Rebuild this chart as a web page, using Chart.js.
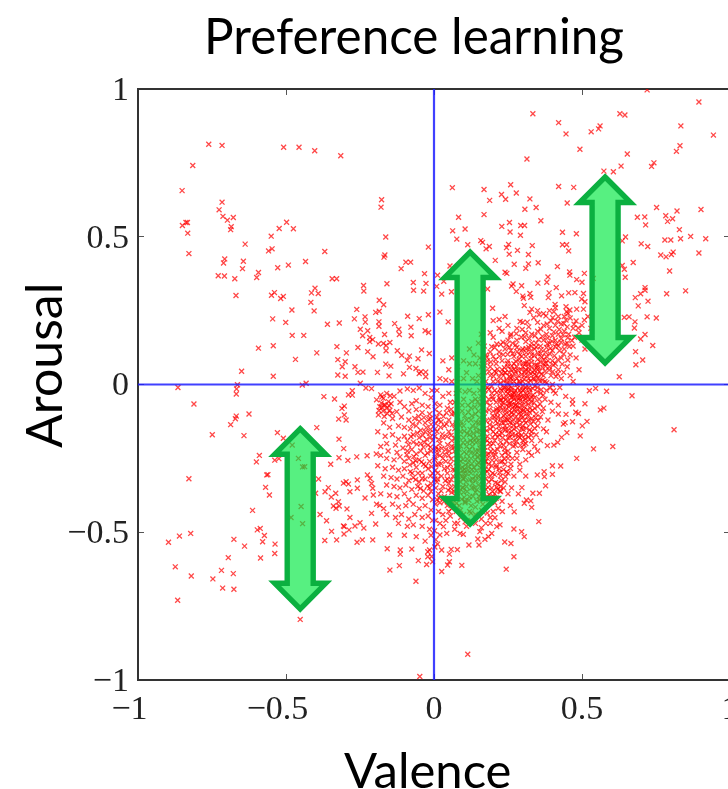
<!DOCTYPE html>
<html><head><meta charset="utf-8">
<style>html,body{margin:0;padding:0;background:#fff;overflow:hidden;width:728px;height:789px}canvas{display:block}</style>
<script src="https://cdn.jsdelivr.net/npm/chart.js@4/dist/chart.umd.min.js"></script>
</head><body>
<canvas id="c" width="828" height="809" style="width:828px;height:809px"></canvas>
<script>
// Each list alternates valence, arousal
const upperLeft=[-.761,.813,-.716,.809,-.508,.803,-.456,.803,-.403,.791,-.315,.774,-.815,.741,-.851,.656,-.716,.617,-.177,.625,-.179,.6,-.726,.591,-.713,.569,-.698,.556,-.678,.565,-.838,.548,-.833,.548,-.85,.538,-.498,.549,-.685,.534,-.687,.524,-.523,.528,-.475,.527,-.832,.512,-.55,.502,-.163,.499,-.019,.465,-.638,.475,-.547,.459,-.559,.452,-.828,.443,-.369,.45,-.166,.438,-.169,.431,-.707,.425,-.644,.417,-.711,.411,-.434,.416,-.492,.404,-.528,.395,-.647,.392,-.095,.414,-.079,.414,-.111,.392,-.593,.379,-.032,.375,-.729,.368,-.708,.367,-.599,.362,-.673,.358,-.344,.358,-.329,.358,-.159,.341,-.07,.345,-.027,.342,-.238,.335,-.237,.316,-.402,.326,-.069,.319,-.035,.316,-.414,.31,-.391,.308,-.539,.311,-.549,.302,-.669,.301,-.509,.298,-.518,.291,-.185,.285,-.416,.278,-.17,.27,-.48,.252,-.405,.249,-.261,.254,-.185,.248,-.197,.244,-.233,.229,-.089,.231,-.05,.223,-.019,.236,-.545,.222,-.269,.222,-.232,.211,-.501,.21,-.36,.204,-.32,.208,-.186,.212,-.186,.197,-.133,.206,-.078,.194,-.249,.187,-.224,.182,-.119,.187,-.03,.182,-.018,.176,-.241,.165,-.167,.169,-.117,.169,-.077,.165,-.479,.166,-.44,.166,-.217,.159,-.207,.152,-.217,.145,-.188,.137,-.171,.139,-.149,.142,-.162,.132,-.162,.114,-.593,.123,-.543,.131,-.328,.128,-.257,.125,-.296,.107,-.396,.107,-.224,.111,-.124,.114,-.042,.117,-.016,.105,-.206,.094,-.109,.099,-.083,.096,-.054,.087,-.468,.085,-.325,.084,-.3,.077,-.09,.082,-.31,.06,-.267,.06,-.163,.069,-.146,.062,-.083,.058,-.061,.054,-.044,.043,-.028,.042,-.65,.045,-.257,.041,-.24,.042,-.191,.041,-.103,.036,-.543,.028,-.325,.032,-.3,.028,-.152,.029,-.05,.037,-.028,.026];
const upperRight=[.72,.997,.895,.956,.334,.916,.628,.916,.645,.912,.421,.886,.834,.875,.446,.848,.561,.875,.556,.865,.531,.855,.944,.844,.831,.808,.819,.789,.493,.796,.653,.78,.314,.763,.743,.75,.735,.738,.632,.739,.606,.72,.574,.722,.062,.666,.169,.66,.259,.676,.421,.67,.472,.667,.228,.643,.278,.648,.242,.627,.188,.623,.324,.628,.45,.614,.307,.593,.345,.599,.752,.599,.902,.592,.821,.587,.169,.575,.083,.566,.687,.566,.712,.567,.783,.571,.806,.561,.789,.552,.361,.554,.715,.54,.255,.548,.229,.535,.293,.538,.306,.538,.105,.526,.063,.52,.257,.516,.434,.515,.829,.524,.481,.51,.292,.505,.867,.501,.833,.493,.918,.493,.077,.492,.78,.489,.8,.489,.647,.499,.636,.486,.158,.487,.164,.481,.114,.473,.187,.467,.176,.459,.252,.474,.245,.463,.332,.47,.434,.473,.448,.473,.7,.476,.722,.467,.282,.454,.455,.452,.254,.441,.319,.44,.895,.445,.766,.438,.784,.432,.802,.44,.808,.448,.207,.42,.271,.407,.319,.408,.31,.393,.352,.412,.673,.413,.054,.401,.417,.399,.636,.403,.643,.39,.796,.384,.24,.38,.246,.376,.458,.381,.459,.37,.385,.364,.508,.376,.012,.37,.033,.349,.646,.363,.482,.355,.381,.346,.351,.343,.5,.346,.538,.359,.267,.34,.262,.333,.296,.334,.009,.332,.181,.323,.413,.328,.713,.328,.713,.319,.85,.317,.786,.307,.059,.314,.026,.306,.278,.315,.324,.308,.389,.31,.386,.294,.3,.299,.302,.292,.327,.295,.431,.3,.455,.31,.476,.311,.505,.308,.499,.289,.51,.28,.698,.307,.68,.294,.723,.282,.69,.266,.305,.267,.409,.271,.198,.258,.33,.255,.324,.244,.02,.245,.446,.263,.448,.246,.459,.252,.453,.24,.482,.255,.505,.255,.72,.229,.751,.225,.659,.229,.643,.227,.22,.22,.2,.216,.291,.213,.048,.212,.508,.218,.679,.212,.677,.191,.713,.169,.698,.154,.739,.132,.681,.111,.705,.083,.682,.067,.626,.026];
const lowerLeft=[-.865,-.01,-.664,-.001,-.667,-.015,-.668,-.032,-.811,-.066,-.445,-.002,-.432,.004,-.249,.004,-.23,-.012,-.211,-.014,-.625,-.1,-.668,-.107,-.671,-.116,-.687,-.136,-.372,-.041,-.336,-.049,-.289,-.035,-.276,-.021,-.276,-.036,-.303,-.073,-.311,-.081,-.303,-.103,-.297,-.12,-.322,-.117,-.396,-.146,-.749,-.17,-.642,-.173,-.529,-.163,-.509,-.182,-.479,-.205,-.321,-.185,-.305,-.217,-.59,-.24,-.6,-.262,-.538,-.256,-.524,-.251,-.458,-.25,-.444,-.279,-.437,-.278,-.321,-.248,-.291,-.257,-.261,-.245,-.349,-.27,-.226,-.241,-.828,-.319,-.565,-.306,-.561,-.305,-.39,-.32,-.569,-.348,-.556,-.374,-.4,-.368,-.357,-.349,-.368,-.363,-.332,-.368,-.347,-.381,-.297,-.329,-.289,-.337,-.306,-.334,-.284,-.363,-.259,-.323,-.259,-.351,-.233,-.384,-.225,-.306,-.216,-.318,-.211,-.335,-.207,-.351,-.205,-.374,-.449,-.413,-.613,-.426,-.323,-.397,-.34,-.411,-.32,-.411,-.331,-.419,-.294,-.421,-.194,-.405,-.183,-.409,-.385,-.44,-.483,-.45,-.363,-.461,-.284,-.45,-.211,-.436,-.444,-.471,-.25,-.468,-.267,-.479,-.306,-.479,-.303,-.481,-.197,-.472,-.237,-.486,-.597,-.492,-.587,-.487,-.346,-.497,-.287,-.492,-.304,-.506,-.822,-.504,-.86,-.513,-.573,-.511,-.676,-.524,-.579,-.532,-.897,-.534,-.64,-.547,-.537,-.54,-.369,-.528,-.329,-.526,-.26,-.534,-.242,-.526,-.207,-.526,-.15,-.509,-.158,-.556,-.114,-.56,-.114,-.574,-.075,-.557,-.538,-.572,-.586,-.587,-.695,-.586,-.021,-.566,-.021,-.583,-.053,-.596,-.025,-.609,-.117,-.613,-.149,-.628,-.874,-.617,-.718,-.629,-.678,-.64,-.82,-.648,-.747,-.658,-.061,-.666,-.714,-.689,-.676,-.693,-.866,-.73,-.452,-.795,-.048,-.988];
const lowerRight=[.669,-.038,.811,-.153,.583,-.023,.546,-.013,.525,-.021,.51,-.065,.468,-.052,.468,-.066,.562,-.086,.574,-.08,.488,-.098,.479,-.094,.446,-.101,.517,-.125,.501,-.14,.468,-.126,.437,-.134,.443,-.129,.431,-.179,.449,-.163,.494,-.174,.418,-.196,.405,-.205,.383,-.207,.539,-.218,.604,-.21,.482,-.25,.4,-.275,.428,-.276,.372,-.295,.4,-.304,.373,-.312,.349,-.306,.377,-.343,.356,-.368,.334,-.368,.297,-.349,.312,-.391,.305,-.402,.327,-.394,.33,-.416,.271,-.431,.354,-.464,.27,-.489,.296,-.498,.305,-.515,.26,-.538,.239,-.533,.27,-.583,.244,-.625,.114,-.913,.026,-.56,.058,-.558,.079,-.559,.052,-.574,.052,-.6,.046,-.611,.094,-.612,.026,-.633,.118,-.543,.152,-.543,.212,-.481,.223,-.475,.206,-.451,.217,-.419,.155,-.498,.184,-.515,.172,-.524,.195,-.504,.099,-.507,.088,-.504,.032,-.481,.043,-.504,.02,-.509,.003,-.55,-.008,-.582,-.005,-.6,.006,-.525,.012,-.54,.148,-.523,.16,-.485,.19,-.47,.2,-.43,.231,-.43,.258,-.41,.285,-.37,.25,-.37,.23,-.395,.262,-.35,.24,-.33,.27,-.31,.29,-.29,.31,-.31,.25,-.3,.222,-.36,.2,-.38,.175,-.47,.14,-.47,.11,-.48,.07,-.49,.07,-.47,.04,-.46,.02,-.47,.015,-.43,.05,-.43,.09,-.45];
const leftMass=[-.194,-.052,-.171,-.047,-.154,-.058,-.183,-.075,-.16,-.081,-.149,-.087,-.188,-.103,-.126,-.092,-.178,-.063,-.165,-.07,-.145,-.065,-.172,-.09,-.18,-.035,-.16,-.03,-.135,-.04,-.115,-.022,-.09,-.015,-.07,-.02,-.05,-.012,-.03,-.03,-.01,-.045,-.115,-.06,-.1,-.075,-.075,-.065,-.06,-.055,-.04,-.07,-.02,-.075,-.085,-.09,-.06,-.085,-.04,-.095,-.015,-.1,-.14,-.115,-.11,-.11,-.085,-.12,-.065,-.115,-.05,-.125,-.03,-.13,-.01,-.135,-.17,-.13,-.15,-.145,-.12,-.14,-.1,-.145,-.08,-.15,-.06,-.14,-.045,-.155,-.03,-.16,-.015,-.165,.004,-.15,-.19,-.16,-.165,-.175,-.14,-.17,-.12,-.185,-.1,-.175,-.09,-.19,-.07,-.17,-.07,-.195,-.05,-.18,-.045,-.2,-.025,-.185,-.02,-.205,-.005,-.19,-.18,-.21,-.16,-.2,-.155,-.225,-.13,-.205,-.125,-.23,-.105,-.215,-.09,-.225,-.075,-.22,-.06,-.235,-.045,-.225,-.03,-.24,-.01,-.225,.005,-.22,-.195,-.235,-.18,-.24,-.16,-.25,-.135,-.255,-.115,-.245,-.1,-.26,-.085,-.25,-.07,-.265,-.05,-.255,-.035,-.27,-.015,-.26,.002,-.255,-.19,-.275,-.165,-.285,-.14,-.28,-.12,-.29,-.1,-.285,-.08,-.295,-.06,-.28,-.04,-.3,-.02,-.285,-.005,-.3,-.17,-.31,-.145,-.315,-.125,-.32,-.105,-.31,-.085,-.325,-.07,-.315,-.05,-.33,-.03,-.32,-.01,-.335,.003,-.32,-.16,-.34,-.135,-.345,-.115,-.35,-.095,-.34,-.075,-.355,-.055,-.345,-.035,-.36,-.015,-.35,-.18,-.37,-.15,-.375,-.125,-.38,-.1,-.37,-.085,-.39,-.06,-.375,-.04,-.385,-.02,-.375,-.005,-.39,-.17,-.42,-.14,-.405,-.12,-.415,-.095,-.41,-.07,-.405,-.05,-.42,-.03,-.41,-.01,-.425,.005,-.405,-.16,-.44,-.13,-.45,-.11,-.44,-.085,-.455,-.065,-.44,-.04,-.45,-.02,-.445,-.005,-.46,-.12,-.47,-.09,-.48,-.07,-.475,-.04,-.48,-.015,-.49,-.1,-.51,-.06,-.515,-.03,-.53,-.01,-.51,.002,-.495,-.015,-.56,.005,-.46,-.007,-.02,.004,-.065,.01,-.11,-.012,-.115];
const centreMass=[.01,-.02,.03,-.04,.02,-.07,.05,-.03,.045,-.08,.07,-.06,.085,-.02,.1,-.05,.06,-.1,.015,-.12,.035,-.14,.05,-.12,.08,-.11,.095,-.09,.11,-.12,.125,-.08,.14,-.05,.155,-.02,.15,-.09,.165,-.06,.13,-.14,.15,-.13,.17,-.11,.01,-.16,.03,-.18,.05,-.16,.07,-.15,.09,-.16,.1,-.14,.12,-.17,.145,-.16,.17,-.15,.19,-.12,.2,-.09,.185,-.05,.02,-.2,.04,-.22,.06,-.19,.08,-.2,.1,-.18,.11,-.21,.13,-.195,.15,-.19,.165,-.2,.18,-.175,.2,-.16,.215,-.13,.01,-.235,.03,-.25,.05,-.24,.07,-.225,.09,-.24,.11,-.235,.125,-.25,.14,-.225,.155,-.24,.17,-.225,.19,-.21,.205,-.19,.22,-.17,.235,-.15,.015,-.27,.035,-.285,.055,-.27,.075,-.265,.095,-.28,.115,-.265,.135,-.28,.15,-.265,.165,-.275,.18,-.25,.2,-.24,.215,-.22,.235,-.205,.25,-.18,.005,-.29,.025,-.31,.045,-.3,.065,-.31,.085,-.3,.105,-.315,.125,-.3,.14,-.31,.16,-.3,.18,-.295,.195,-.275,.21,-.255,.23,-.24,.25,-.225,.01,-.33,.03,-.345,.05,-.335,.07,-.345,.09,-.33,.11,-.345,.13,-.335,.15,-.34,.165,-.325,.185,-.33,.205,-.305,.22,-.285,.24,-.27,.265,-.25,.015,-.37,.035,-.38,.06,-.365,.08,-.38,.1,-.365,.12,-.38,.14,-.365,.16,-.37,.175,-.355,.195,-.35,.215,-.335,.02,-.4,.045,-.41,.065,-.4,.085,-.41,.105,-.395,.125,-.41,.145,-.395,.165,-.405,.185,-.39,.03,-.44,.055,-.445,.075,-.43,.1,-.44,.12,-.43,.14,-.44,.16,-.425,.18,-.435,.16,-.455,.19,-.45,.125,-.46,.08,-.47,.105,-.465,.012,-.3,.015,-.22,.022,-.145,.018,-.385,.1,-.3,.12,-.22,.085,-.22,.14,-.255,.07,-.29,.09,-.26,.06,-.21,.04,-.26,.105,-.4,.135,-.35,.115,-.29,.15,-.31,.13,-.32,.095,-.35,.075,-.38,.055,-.35,.045,-.32,.155,-.215,.175,-.26,.125,-.12,.14,-.1,.16,-.13,.175,-.09,.19,-.07,.075,-.13,.055,-.06,.115,-.07,.135,-.03,.17,-.035,.195,-.03,.12,-.02,.095,-.07,.105,-.025,.075,-.03,.155,-.07,.145,-.18,.16,-.17,.18,-.19,.19,-.15,.205,-.11,.215,-.08,.225,-.05,.13,-.21,.15,-.225,.185,-.235,.2,-.2,.22,-.155,.24,-.12,.165,-.25,.185,-.27,.205,-.225,.17,-.3,.19,-.31,.21,-.28,.23,-.26,.24,-.23,.255,-.2,.265,-.17,.275,-.205,.285,-.175,.295,-.15,.28,-.23,.3,-.19,.26,-.27,.245,-.295,.225,-.31,.215,-.355,.235,-.35,.18,-.38,.205,-.37,.225,-.345,.155,-.39,.14,-.415,.165,-.43,.205,-.4,.125,-.435,.09,-.425,.06,-.42];
const denseBlob=[.27,-.05,.25,-.03,.29,-.02,.31,-.06,.265,-.08,.285,-.1,.245,-.07,.225,-.03,.24,-.01,.26,.01,.28,.02,.3,.01,.32,-.01,.335,-.035,.325,-.08,.3,-.09,.28,-.13,.26,-.11,.24,-.1,.22,-.09,.21,-.06,.205,-.02,.215,.01,.235,.03,.255,.04,.275,.045,.295,.05,.315,.03,.335,.02,.35,-.01,.355,-.05,.345,-.1,.32,-.12,.3,-.14,.27,-.15,.255,-.14,.235,-.13,.215,-.11,.25,-.055,.27,-.03,.29,-.055,.31,-.03,.275,-.07,.255,-.09,.23,-.07,.235,-.045,.26,-.02,.28,0,.3,-.02,.315,-.045,.29,-.08,.27,-.1,.25,-.12,.3,-.11,.33,-.06,.34,-.005,.32,.02,.305,.03,.285,.03,.265,.025,.245,.015,.225,.005,.2,.01,.19,.03,.21,.04,.23,.05,.25,.06,.27,.07,.29,.075,.31,.07,.33,.06,.35,.05,.37,.03,.375,.01,.38,-.02,.375,-.05,.37,-.08,.36,-.11,.35,-.14,.33,-.16,.31,-.17,.29,-.18,.27,-.19,.25,-.155,.23,-.165,.31,-.2,.33,-.19,.345,-.17,.37,-.15,.385,-.12,.4,-.09,.395,-.06,.41,-.03,.4,0,.395,.03,.39,.06,.37,.07,.35,.085,.33,.1,.31,.095,.29,.1,.27,.095,.25,.08,.23,.08,.21,.07,.19,.06,.17,.04,.175,.01,.18,-.01,.165,.015,.15,.03,.16,.06,.18,.08,.2,.095,.22,.11,.24,.12,.26,.115,.28,.125,.3,.12,.32,.125,.34,.12,.36,.105,.38,.095,.4,.08,.42,.05,.43,.02,.425,-.01,.445,-.04,.42,-.07,.42,-.1,.38,-.16,.36,-.19,.34,-.21,.32,-.23,.3,-.22,.28,-.25,.29,-.27,.31,-.255,.33,-.24,.35,-.225,.25,-.25,.275,-.07,.262,-.045,.243,-.025,.282,-.045,.302,-.042,.322,-.028,.34,-.045,.31,-.01,.29,.005,.27,.01,.255,-.002,.235,-.01,.22,-.045,.21,-.085,.2,-.05,.225,-.115,.24,-.14,.265,-.125,.29,-.12,.31,-.13,.33,-.115,.35,-.075,.36,-.03,.358,.012,.34,.035,.32,.045,.3,.06,.28,.06,.26,.05,.24,.04,.22,.025,.205,.045,.195,-.005,.255,-.065,.295,-.07,.315,-.085,.34,-.08,.265,-.035,.28,-.085,.245,-.04,.225,-.055,.325,-.05,.305,-.075,.285,-.035,.235,-.085,.26,-.06,.275,-.02,.295,-.04,.252,-.015,.228,-.02,.3,-.005,.318,.008,.345,.008,.33,.075,.31,.05,.35,.065,.375,.045,.385,.08,.41,.07,.43,.09,.45,.06,.46,.03,.44,.12,.42,.13,.4,.115,.38,.125,.36,.13,.345,.14,.33,.14,.31,.145,.37,.15,.39,.14,.41,.15,.43,.155,.45,.14,.47,.13,.46,.1,.48,.09,.475,.16,.455,.17,.44,.18,.42,.17,.4,.165,.38,.17,.39,.19,.41,.2,.43,.205,.45,.195,.47,.19,.49,.175,.5,.15,.5,.2,.48,.215,.46,.225,.44,.23,.42,.23,.395,.215,.37,.2,.35,.18,.33,.17,.31,.175,.295,.16,.28,.15,.265,.14,.25,.15,.245,.135,.225,.135,.205,.125,.19,.11,.175,.1,.155,.09,.14,.07,.135,.1,.12,.07,.11,.04,.145,.01,.13,.02,.1,.02,.08,.02,.06,.01,.04,.015,.02,.02,.05,.05,.08,.06,.1,.08,.03,.08,.06,.09,.12,.12,.15,.14,.17,.13,.2,.16,.23,.18,.26,.17,.28,.19,.25,.2,.3,.21,.32,.195,.35,.21,.37,.24,.35,.25,.39,.25,.41,.26,.52,.23,.53,.19,.51,.12,.49,.05,.47,.01,.19,.175,.16,.17,.24,.23,.22,.19];
const coreUpper=[.296,.034,.308,.043,.318,.056,.327,.036,.338,.049,.347,.031,.356,.044,.366,.058,.372,.084,.358,.077,.344,.066,.328,.087,.314,.078,.302,.071,.288,.086,.276,.079,.263,.063,.248,.071,.238,.057,.296,.096,.312,.108,.326,.112,.339,.098,.352,.104,.364,.092,.378,.072,.389,.049,.401,.043,.412,.027,.352,.022,.366,.014,.381,.006,.392,-.012,.404,-.021,.318,.068,.334,.041,.349,.058,.362,.035,.377,.062,.285,.047,.27,.052,.255,.028,.241,.041,.228,.038,.214,.052,.201,.028,.186,.044,.172,.064,.163,.082,.178,.092,.192,.076,.208,.084,.221,.096,.234,.101,.249,.102,.266,.104,.281,.111,.296,.115,.311,.121,.328,.129,.345,.127,.362,.118,.377,.109,.392,.103,.407,.097,.418,.084,.433,.069,.438,.041,.418,.036,.403,.066,.393,.122,.409,.128,.424,.114,.438,.103,.452,.083,.383,.138,.399,.146,.414,.138,.429,.143,.443,.137,.457,.128,.353,.152,.366,.163,.384,.157,.405,.178,.423,.186,.436,.168,.452,.158,.466,.149,.439,.206,.417,.214,.401,.226,.382,.205,.361,.187,.341,.165,.322,.156,.306,.161,.276,.134,.255,.126,.233,.143,.212,.137,.195,.128,.446,.218,.473,.204,.487,.191,.258,.164,.278,.172,.298,.186,.315,.211,.337,.226,.355,.236,.378,.232,.405,.246];
const coreMiddle=[.262,-.012,.272,-.028,.283,-.012,.293,-.028,.304,-.016,.314,-.036,.324,-.018,.334,-.014,.248,-.018,.257,-.036,.268,-.042,.279,-.056,.289,-.046,.299,-.058,.309,-.048,.319,-.066,.329,-.042,.338,-.062,.241,-.052,.252,-.075,.262,-.068,.272,-.084,.282,-.072,.292,-.092,.303,-.086,.313,-.098,.323,-.094,.333,-.088,.343,-.112,.232,-.062,.243,-.086,.253,-.103,.263,-.096,.274,-.113,.284,-.118,.295,-.104,.305,-.122,.316,-.108,.326,-.134,.336,-.126,.224,-.078,.236,-.106,.246,-.118,.257,-.128,.268,-.138,.279,-.146,.29,-.136,.301,-.152,.312,-.148,.323,-.154,.214,-.096,.228,-.128,.241,-.152,.252,-.166,.263,-.158,.274,-.172,.285,-.164,.296,-.171,.307,-.186,.319,-.178,.208,-.124,.219,-.142,.232,-.18,.244,-.192,.256,-.178,.268,-.208,.279,-.192,.292,-.206,.304,-.204,.198,-.106,.186,-.086,.178,-.062,.172,-.02,.186,-.016,.198,-.042,.212,-.028,.224,-.014,.236,.012,.248,.005,.258,.022,.271,.036,.288,.012,.304,.018,.326,.012,.34,.018,.348,-.024,.362,-.018,.369,-.036,.358,-.066,.366,-.092,.352,-.122,.34,-.148,.328,-.172,.225,-.195,.215,-.178,.2,-.142,.188,-.136,.176,-.124,.178,-.156,.166,-.138,.154,-.112,.142,-.128,.128,-.106,.138,-.076,.148,-.058,.128,-.058,.116,-.094,.104,-.106,.092,-.126,.158,-.04,.165,-.165,.155,-.155,.142,-.146,.133,-.166,.122,-.152,.112,-.166,.102,-.158,.172,-.186,.157,-.204,.142,-.196,.133,-.182,.123,-.19,.112,-.196,.172,-.212,.188,-.198,.198,-.178,.208,-.168,.192,-.226,.178,-.238,.163,-.232,.148,-.244,.138,-.238,.125,-.232,.112,-.252,.102,-.228,.172,-.262,.158,-.258,.146,-.272,.128,-.268,.118,-.278,.106,-.272,.196,-.256,.208,-.238,.222,-.208,.238,-.218,.185,-.288,.172,-.288,.158,-.282,.143,-.292,.128,-.288,.112,-.302,.098,-.292,.198,-.3,.21,-.272,.225,-.262,.238,-.252,.252,-.238,.175,-.318,.158,-.318,.142,-.325,.122,-.322,.108,-.33,.095,-.312,.195,-.322,.208,-.332,.222,-.298,.235,-.288,.162,-.348,.145,-.356,.128,-.35,.112,-.362,.098,-.348,.182,-.348,.198,-.362,.212,-.348,.228,-.325,.168,-.385,.152,-.378,.132,-.378,.118,-.392,.102,-.382,.186,-.372,.195,-.398,.21,-.385,.225,-.362,.242,-.312,.258,-.284];
const coreLeft=[.004,-.085,.018,-.096,.032,-.108,.042,-.096,.058,-.084,.068,-.098,.006,-.132,.024,-.126,.042,-.134,.062,-.136,.078,-.146,.088,-.138,.003,-.176,.016,-.186,.028,-.168,.044,-.176,.058,-.172,.072,-.182,.084,-.178,.006,-.212,.026,-.216,.046,-.204,.052,-.226,.068,-.212,.076,-.238,.09,-.208,.098,-.196,.004,-.248,.02,-.24,.036,-.236,.058,-.252,.082,-.252,.098,-.254,.007,-.272,.024,-.268,.046,-.282,.064,-.288,.084,-.276,.103,-.286,.012,-.32,.038,-.326,.058,-.322,.078,-.322,.098,-.318,.006,-.35,.024,-.36,.048,-.358,.068,-.362,.086,-.364,.01,-.39,.034,-.396,.054,-.39,.076,-.402,.094,-.388,-.018,-.118,-.034,-.112,-.052,-.108,-.072,-.134,-.026,-.146,-.012,-.152,-.038,-.172,-.056,-.164,-.078,-.176,-.012,-.178,-.032,-.196,-.058,-.202,-.086,-.204,-.012,-.212,-.036,-.212,-.068,-.244,-.092,-.238,-.022,-.232,-.042,-.262,-.062,-.258,-.082,-.272,-.008,-.278,-.028,-.276,-.054,-.3,-.074,-.3,-.012,-.31,-.04,-.318,-.062,-.322,-.022,-.344,-.046,-.352,-.01,-.362,-.168,-.068,-.176,-.078,-.152,-.072,-.186,-.088,-.158,-.098,-.142,-.098,-.168,-.108,-.176,-.042,-.148,-.038];
const arrowValence=[-.452,.122,.578];
const arrowTop=[-.137,.461,.715];
const arrowBottom=[-.772,-.485,.06];
const axisSpan=[-1,1];
const tickLabels={'-1':'−1  ','-0.5':'−0.5  ','0':'0','0.5':'0.5','1':'1'};
const toPoints=a=>{const p=[];for(let i=0;i<a.length;i+=2)p.push({x:a[i],y:a[i+1]});return p;};
const allPoints=[upperLeft,upperRight,lowerLeft,lowerRight,leftMass,centreMass,denseBlob,coreUpper,coreMiddle,coreLeft].flatMap(toPoints);

const arrows={id:'arrows',afterDatasetsDraw(ch){
  const {ctx,scales:{x,y}}=ch,hw=25.5,sw=13,lw=5.4;
  ctx.save();ctx.lineWidth=lw;ctx.lineJoin='miter';ctx.miterLimit=10;
  arrowValence.forEach((v,i)=>{
    const cx=x.getPixelForValue(v),t=y.getPixelForValue(arrowTop[i])+3.8,b=y.getPixelForValue(arrowBottom[i])-3.8;
    ctx.beginPath();ctx.moveTo(cx,t);ctx.lineTo(cx+hw,t+hw);ctx.lineTo(cx+sw,t+hw);ctx.lineTo(cx+sw,b-hw);ctx.lineTo(cx+hw,b-hw);ctx.lineTo(cx,b);
    ctx.lineTo(cx-hw,b-hw);ctx.lineTo(cx-sw,b-hw);ctx.lineTo(cx-sw,t+hw);ctx.lineTo(cx-hw,t+hw);ctx.closePath();
    ctx.fillStyle='rgba(0,232,63,.66)';ctx.fill();ctx.strokeStyle='#0bb040';ctx.stroke();
  });ctx.restore();
}};
const frame='#333';
const baseX={type:'linear',min:-1,max:1,ticks:{stepSize:.5}};
new Chart(document.getElementById('c'),{
  type:'scatter',
  data:{datasets:[
    {data:axisSpan.map(v=>({x:v,y:0})),showLine:true,borderColor:'rgba(30,30,255,.85)',borderWidth:2.2,pointRadius:0},
    {data:axisSpan.map(v=>({x:0,y:v})),showLine:true,borderColor:'rgba(30,30,255,.85)',borderWidth:2.2,pointRadius:0},
    {data:allPoints,pointStyle:'crossRot',pointRadius:3.5,pointBorderWidth:1.3,pointBorderColor:'rgba(255,0,0,.72)',pointBackgroundColor:'transparent'}
  ]},
  options:{responsive:false,animation:false,
    layout:{padding:0},
    plugins:{legend:{display:false},tooltip:{enabled:false},
      title:{display:true,text:'Preference learning',color:'#000',font:{family:'Lato',size:49.4,weight:'normal'},padding:{top:8,bottom:21.7}}},
    scales:{
      x:{...baseX,position:'bottom',
        afterFit(s){s.height=129},
        border:{color:frame,width:2},
        grid:{drawOnChartArea:false,tickLength:-6,tickColor:'#555'},
        ticks:{stepSize:.5,padding:16,maxRotation:0,autoSkip:false,color:'#222',font:{family:'Liberation Serif',size:34},callback:v=>tickLabels[String(v)]},
        title:{display:true,text:'Valence ',color:'#000',font:{family:'Lato',size:49},padding:{top:0,bottom:7.6}}},
      x2:{...baseX,position:'top',afterFit(s){s.height=0},
        border:{color:frame,width:2},
        grid:{drawOnChartArea:false,tickLength:-6,tickColor:'#555'},ticks:{display:false,stepSize:.5}},
      y:{type:'linear',min:-1,max:1,position:'left',
        afterFit(s){s.width=138},
        border:{color:frame,width:2},
        grid:{drawOnChartArea:false,tickLength:-6,tickColor:'#555'},
        ticks:{stepSize:.5,padding:15,labelOffset:2,autoSkip:false,color:'#222',font:{family:'Liberation Serif',size:34},callback:v=>tickLabels[String(v)].trim()},
        title:{display:true,text:'   Arousal',color:'#000',font:{family:'Lato',size:50},padding:{top:16,bottom:0}}},
      y2:{type:'linear',min:-1,max:1,position:'right',afterFit(s){s.width=98},
        border:{color:frame,width:2},
        grid:{drawOnChartArea:false,tickLength:-6,tickColor:'#555'},ticks:{display:false,stepSize:.5}}
    }
  },
  plugins:[arrows]
});
</script></body></html>
